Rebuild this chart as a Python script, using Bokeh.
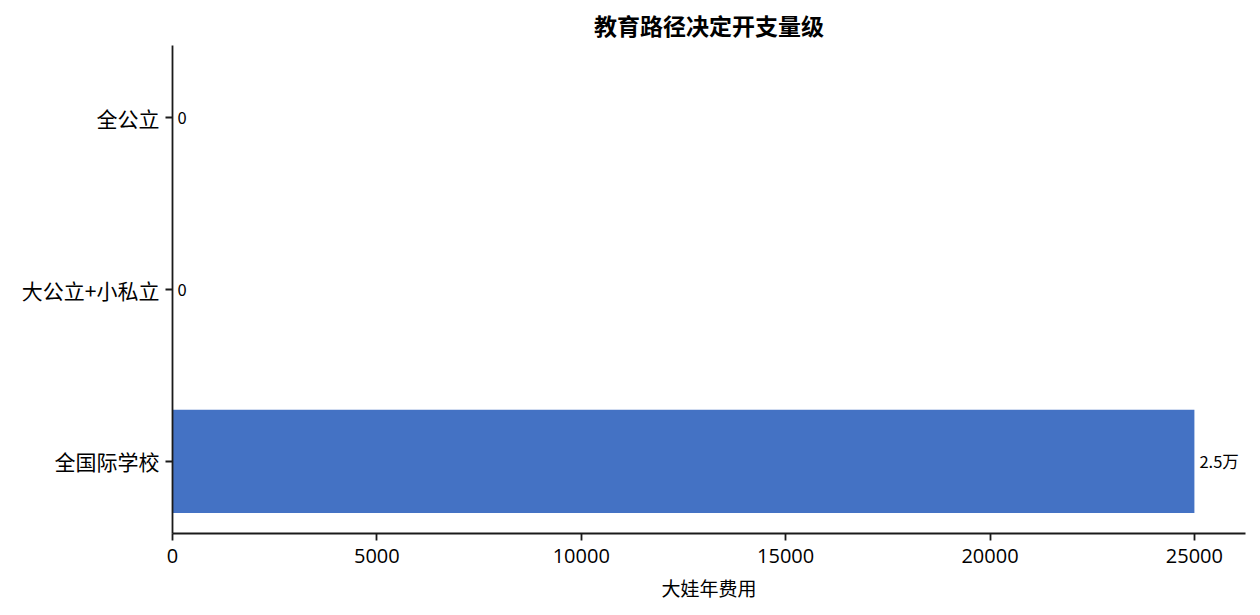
from bokeh.plotting import figure
from bokeh.models import Range1d, FixedTicker, ColumnDataSource
from bokeh.core.properties import value
from bokeh.embed import file_html
from bokeh.resources import INLINE

categories = ["全公立", "大公立+小私立", "全国际学校"]
costs = [0, 0, 25000]
x_ticks = [0, 5000, 10000, 15000, 20000, 25000]

def fmt(v):
    return f"{v/10000:g}万" if v >= 10000 else f"{v:g}"

labels = [fmt(v) for v in costs]
positions = list(range(len(categories) - 1, -1, -1))

FONT = "Noto Sans CJK SC"

src = ColumnDataSource(dict(y=positions, x=costs, label=labels))

p = figure(width=1252, height=610, output_backend="svg", toolbar_location=None,
           x_range=Range1d(0, 26250), y_range=Range1d(-0.42, 2.42),
           title="教育路径决定开支量级",
           min_border_left=172, min_border_right=7, min_border_top=45, min_border_bottom=77)

p.hbar(y="y", right="x", left=0, height=0.6, source=src, color="#4472C4", line_color=None)
p.text(x="x", y="y", text="label", source=src, x_offset=5, text_baseline="middle",
       text_align="left", text_font_size="16.5px", text_font=value(FONT), text_color="black")

p.title.align = "center"
p.title.text_font = FONT
p.title.text_font_size = "23px"
p.title.text_font_style = "bold"
p.title.text_color = "black"
p.title.standoff = 8

p.outline_line_color = None
p.xgrid.visible = False
p.ygrid.visible = False

p.xaxis.ticker = FixedTicker(ticks=x_ticks)
p.yaxis.ticker = FixedTicker(ticks=positions)
p.yaxis.major_label_overrides = {pos: c for pos, c in zip(positions, categories)}
p.xaxis.axis_label = "大娃年费用"

for ax in (p.xaxis, p.yaxis):
    ax.axis_line_color = "#1a1a1a"
    ax.axis_line_width = 1.8
    ax.major_tick_line_color = "#1a1a1a"
    ax.major_tick_line_width = 1.8
    ax.major_tick_out = 7
    ax.major_tick_in = 0
    ax.minor_tick_line_color = None
    ax.major_label_text_color = "black"
    ax.major_label_standoff = 6

p.xaxis.major_label_standoff = 8
p.yaxis.major_label_text_font = FONT
p.yaxis.major_label_text_font_size = "21px"
p.xaxis.major_label_text_font = "Open Sans"
p.xaxis.major_label_text_font_size = "20px"

p.xaxis.axis_label_text_font = FONT
p.xaxis.axis_label_text_font_size = "19px"
p.xaxis.axis_label_text_font_style = "normal"
p.xaxis.axis_label_text_color = "black"
p.xaxis.axis_label_standoff = 8

open("out.html", "w").write(file_html(p, INLINE))
